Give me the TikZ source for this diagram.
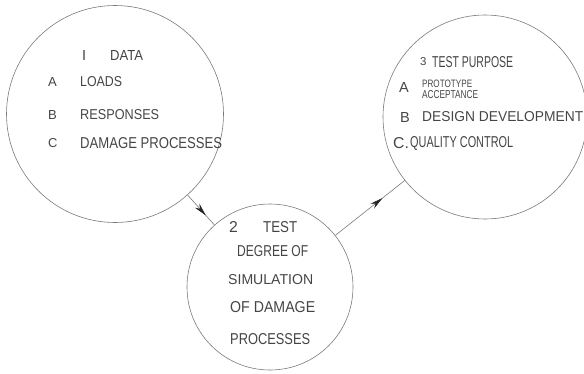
\documentclass[tikz,border=0pt]{standalone}
\usepackage{graphicx}
\usepackage{fontspec}
\setmainfont{Liberation Sans}
\usetikzlibrary{arrows.meta,decorations.markings}

\definecolor{inkgray}{HTML}{454545}
\definecolor{rimgray}{HTML}{7A7A7A}
\newcommand{\lettr}[3]{\resizebox{#1}{#2}{#3}}

\tikzset{
  circ/.style={circle, draw=rimgray, line width=0.6pt, inner sep=0pt},
  lbl/.style={anchor=west, inner sep=0pt, text=inkgray},
  link/.style={draw=rimgray, line width=0.6pt, postaction={decorate},
    decoration={markings, mark=at position 0.68 with {\arrow[black!85]{Stealth[length=13pt,width=6pt]}}}}
}

\begin{document}
\begin{tikzpicture}[x=1pt, y=-1pt]
\useasboundingbox (0,0) rectangle (584,373);
\node[circ, minimum size=217pt] (data) at (115,114) {};
\node[circ, minimum size=204pt] (purpose) at (485,117) {};
\node[circ, minimum size=166pt] (sim) at (270,287) {};
\node[lbl] (d0) at (82,55) {\lettr{!}{10pt}{I}};
\node[lbl] (d1) at (110,55) {\lettr{33pt}{10pt}{DATA}};
\node[lbl] (da) at (48,82) {\lettr{!}{9pt}{A}};
\node[lbl] (d2) at (80,82) {\lettr{42pt}{10pt}{LOADS}};
\node[lbl] (db) at (48,115) {\lettr{!}{9pt}{B}};
\node[lbl] (d3) at (80,115) {\lettr{79pt}{10pt}{RESPONSES}};
\node[lbl] (dc) at (48,143) {\lettr{!}{9pt}{C}};
\node[lbl] (d4) at (80,143) {\lettr{142pt}{11pt}{DAMAGE PROCESSES}};
\node[lbl] (s0) at (229,227) {\lettr{!}{11pt}{2}};
\node[lbl] (s1) at (263,227) {\lettr{34pt}{11pt}{TEST}};
\node[lbl] (s2) at (237,251) {\lettr{71pt}{11pt}{DEGREE OF}};
\node[lbl] (s3) at (228,280) {\lettr{85pt}{10pt}{SIMULATION}};
\node[lbl] (s4) at (230,307) {\lettr{85pt}{11pt}{OF DAMAGE}};
\node[lbl] (s5) at (230,339) {\lettr{80pt}{11pt}{PROCESSES}};
\node[lbl] (p0) at (420,62) {\lettr{!}{8pt}{3}};
\node[lbl] (p1) at (432,62) {\lettr{81pt}{11pt}{TEST PURPOSE}};
\node[lbl] (pa) at (399,87) {\lettr{!}{10pt}{A}};
\node[lbl] (p2) at (422,83.5) {\lettr{50pt}{7.5pt}{PROTOTYPE}};
\node[lbl] (p3) at (422,94.5) {\lettr{56pt}{8pt}{ACCEPTANCE}};
\node[lbl] (pb) at (400,117) {\lettr{!}{10pt}{B}};
\node[lbl] (p4) at (422,117) {\lettr{161pt}{10pt}{DESIGN DEVELOPMENT}};
\node[lbl] (pc) at (393,143) {\lettr{!}{11pt}{C.}};
\node[lbl] (p5) at (410,143) {\lettr{103pt}{11pt}{QUALITY CONTROL}};
\draw[link] (data) -- (sim);
\draw[link] (sim) -- (purpose);
\end{tikzpicture}
\end{document}
